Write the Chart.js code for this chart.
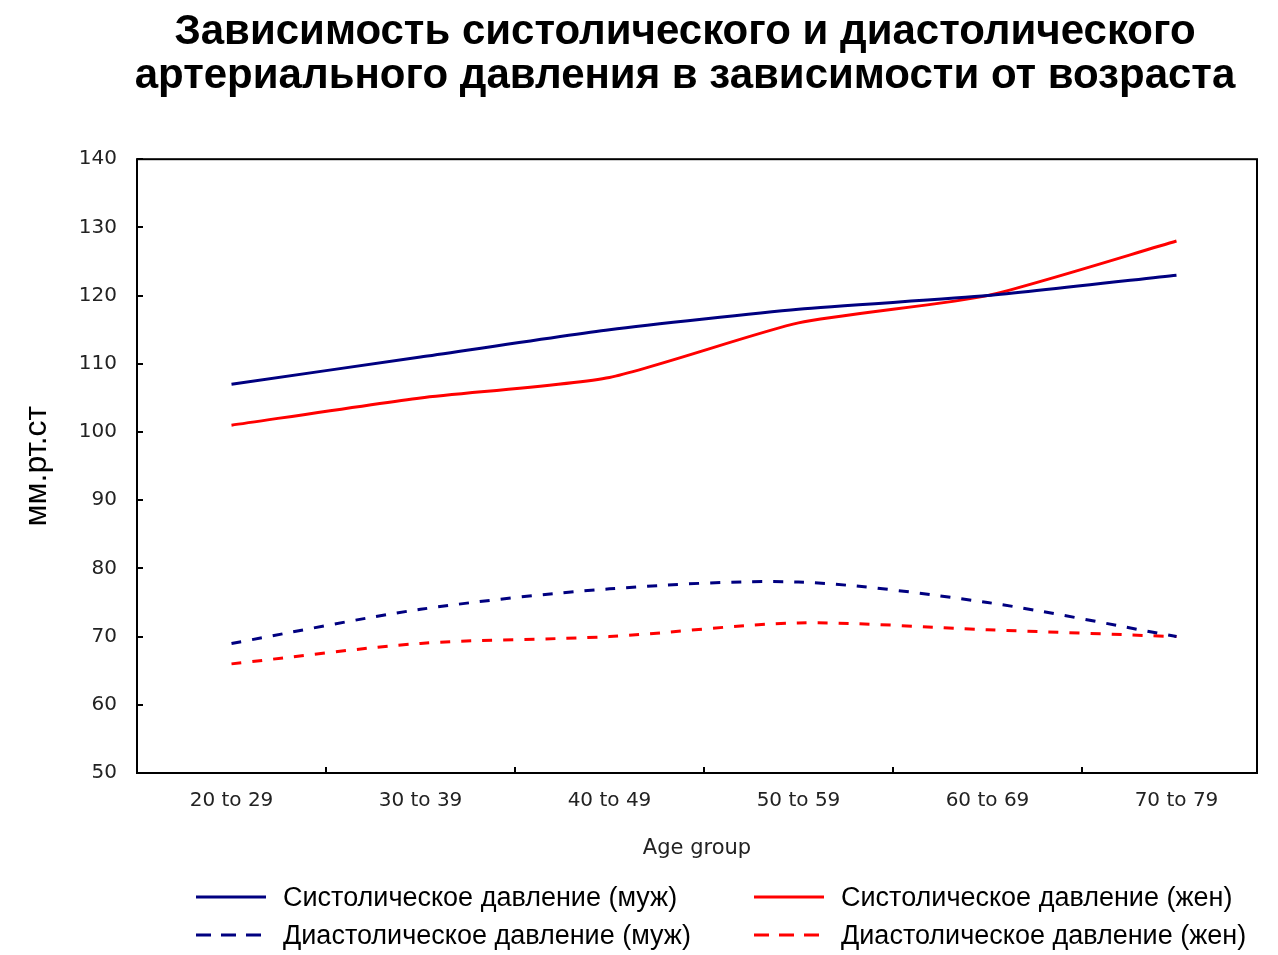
<!DOCTYPE html>
<html><head><meta charset="utf-8">
<script src="https://cdn.jsdelivr.net/npm/chart.js@4.4.0/dist/chart.umd.min.js"></script>
<style>
html,body{margin:0;padding:0;background:#fff;}
#wrap{position:relative;width:1278px;height:955px;}
.lg{position:absolute;height:38px;display:flex;align-items:center;font-family:'Liberation Sans',Arial,sans-serif;font-size:27px;color:#000;white-space:nowrap;}
.lg svg{margin-right:17px;}
</style>
</head><body><div id="wrap"><canvas id="c" width="1278" height="955"></canvas></div>
<script>
const categories = ["20 to 29","30 to 39","40 to 49","50 to 59","60 to 69","70 to 79"];
const sysMale = [107,111,115,118,120,123];
const sysFemale = [101,105,108,116,120,128];
const diaMale = [69,74,77,78,75,70];
const diaFemale = [66,69,70,72,71,70];
const yTicks = [50,60,70,80,90,100,110,120,130,140];
const seriesNames = ["Систолическое давление (муж)","Систолическое давление (жен)","Диастолическое давление (муж)","Диастолическое давление (жен)"];

const pts = a => a.map((v,i)=>({x:i,y:v}));
const NAVY = '#000080', RED = '#ff0000';

const frame = {
  id:'frame',
  afterLayout(chart){
    // the reference title is centred a little right of the canvas centre
    if (chart.titleBlock) chart.titleBlock.left = 113;
  },
  afterDatasetsDraw(chart){
    const {ctx, chartArea:a, scales} = chart;
    ctx.save();
    ctx.strokeStyle='#000'; ctx.lineWidth=2;
    ctx.strokeRect(a.left, a.top, a.right-a.left, a.bottom-a.top);
    ctx.beginPath();
    yTicks.forEach(t=>{ const y=Math.round(scales.y.getPixelForValue(t)); ctx.moveTo(a.left,y); ctx.lineTo(a.left+6,y); });
    for(let i=0;i<categories.length-1;i++){ const x=Math.round(scales.x.getPixelForValue(i+0.5)); ctx.moveTo(x,a.bottom); ctx.lineTo(x,a.bottom-6); }
    ctx.stroke();
    ctx.restore();
  }
};

const chart = new Chart(document.getElementById('c'), {
  type:'line',
  data:{ datasets:[
    {label:seriesNames[0], data:pts(sysMale), borderColor:NAVY, borderWidth:3, pointRadius:0, tension:0.2},
    {label:seriesNames[1], data:pts(sysFemale), borderColor:RED, borderWidth:3, pointRadius:0, tension:0.2},
    {label:seriesNames[2], data:pts(diaMale), borderColor:NAVY, borderWidth:3, borderDash:[10,11], pointRadius:0, tension:0.3},
    {label:seriesNames[3], data:pts(diaFemale), borderColor:RED, borderWidth:3, borderDash:[10,11], pointRadius:0, tension:0.3}
  ]},
  options:{
    responsive:false, animation:false, devicePixelRatio:1,
    layout:{padding:{left:0,right:21,top:0,bottom:90}},
    plugins:{
      title:{display:true, text:["Зависимость систолического и диастолического","артериального давления в зависимости от возраста"],
        color:'#000', font:{family:'Liberation Sans', size:42, weight:'bold', lineHeight:1.05}, padding:{top:10,bottom:61}},
      legend:{display:false},
      tooltip:{enabled:false}
    },
    scales:{
      x:{type:'linear', min:-0.5, max:5.426,
        afterBuildTicks(s){ s.ticks = categories.map((c,i)=>({value:i})); },
        afterFit(s){ s.height = 92; },
        grid:{display:false}, border:{display:false},
        ticks:{color:'#222', font:{family:'DejaVu Sans', size:20}, padding:8, autoSkip:false, maxRotation:0, callback:v=>categories[v]},
        title:{display:true, text:'Age group', color:'#222', font:{family:'DejaVu Sans', size:21}, padding:{top:17}}
      },
      y:{min:50, max:140,
        afterBuildTicks(s){ s.ticks = yTicks.map(v=>({value:v})); },
        afterFit(s){ s.width = 137; },
        grid:{display:false}, border:{display:false},
        ticks:{color:'#222', font:{family:'DejaVu Sans', size:20}, padding:12},
        title:{display:true, text:'мм.рт.ст', color:'#000', font:{family:'Liberation Sans', size:32}, padding:{top:18}}
      }
    }
  },
  plugins:[frame]
});

// HTML legend built from the chart's datasets
const legendPos = [[196,878],[754,878],[196,916],[754,916]];
chart.data.datasets.forEach((d,i)=>{
  const el = document.createElement('div');
  el.className='lg';
  el.style.left = legendPos[i][0]+'px';
  el.style.top = legendPos[i][1]+'px';
  const dash = d.borderDash ? 'stroke-dasharray="15 10"' : '';
  el.innerHTML = '<svg width="70" height="6"><line x1="0" y1="3" x2="70" y2="3" stroke="'+d.borderColor+'" stroke-width="3" '+dash+'/></svg><span>'+d.label+'</span>';
  document.getElementById('wrap').appendChild(el);
});
</script></body></html>
